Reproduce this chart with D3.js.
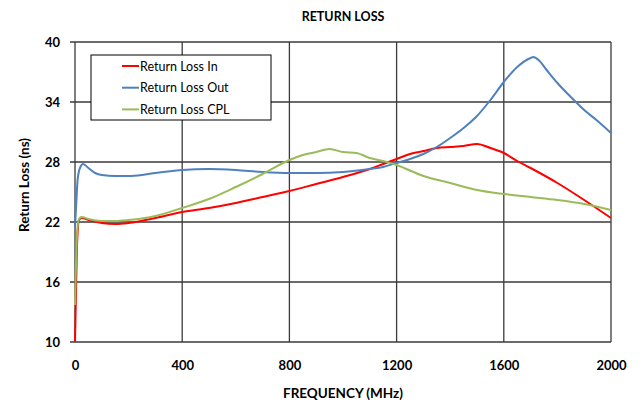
<!DOCTYPE html>
<html><head><meta charset="utf-8">
<script src="https://cdn.jsdelivr.net/npm/d3@7/dist/d3.min.js"></script>
<style>body{margin:0;background:#fff}svg{display:block}text{font-family:Lato,"Open Sans",sans-serif}</style>
</head><body><svg id="c" width="642" height="406"></svg>
<script>
const xTicks = [0, 400, 800, 1200, 1600, 2000];
const yTicks = [10, 16, 22, 28, 34, 40];
const seriesNames = ["Return Loss In", "Return Loss Out", "Return Loss CPL"];
const seriesColors = ["#FF0000", "#4F81BD", "#9BBB59"];

const freqIn = [0, 3, 8, 15, 25, 50, 100, 150, 200, 300, 400, 500, 600, 700, 800, 900, 1000, 1100, 1150, 1200, 1250, 1300, 1350, 1400, 1450, 1500, 1550, 1600, 1650, 1700, 1800, 1900, 2000];
const lossIn = [10, 14, 20, 22.2, 22.4, 22.2, 21.9, 21.8, 21.9, 22.4, 23.0, 23.4, 23.9, 24.5, 25.1, 25.8, 26.5, 27.3, 27.8, 28.3, 28.8, 29.1, 29.4, 29.5, 29.6, 29.8, 29.4, 28.9, 28.1, 27.4, 25.9, 24.2, 22.4];

const freqOut = [0, 5, 10, 20, 30, 50, 75, 100, 150, 200, 250, 300, 400, 500, 600, 700, 800, 900, 1000, 1100, 1150, 1200, 1250, 1300, 1350, 1400, 1450, 1500, 1550, 1600, 1650, 1700, 1710, 1730, 1760, 1800, 1850, 1900, 1950, 2000];
const lossOut = [21.5, 24, 26.3, 27.5, 27.8, 27.4, 26.9, 26.7, 26.6, 26.6, 26.7, 26.9, 27.2, 27.3, 27.2, 27.0, 26.9, 26.9, 27.0, 27.3, 27.5, 27.9, 28.3, 28.8, 29.5, 30.4, 31.4, 32.6, 34.2, 36.0, 37.5, 38.4, 38.5, 38.2, 37.2, 35.9, 34.5, 33.2, 32.1, 30.9];

const freqCpl = [0, 3, 8, 15, 25, 50, 100, 150, 200, 300, 400, 500, 600, 700, 800, 850, 900, 950, 1000, 1050, 1100, 1150, 1200, 1300, 1400, 1500, 1600, 1700, 1800, 1900, 2000];
const lossCpl = [13.7, 17, 21, 22.3, 22.5, 22.3, 22.1, 22.1, 22.2, 22.6, 23.4, 24.3, 25.5, 26.8, 28.2, 28.7, 29.0, 29.3, 29.0, 28.9, 28.4, 28.1, 27.7, 26.6, 25.9, 25.2, 24.8, 24.5, 24.2, 23.8, 23.2];

const series = [
  {name: seriesNames[0], color: seriesColors[0], f: freqIn, v: lossIn},
  {name: seriesNames[1], color: seriesColors[1], f: freqOut, v: lossOut},
  {name: seriesNames[2], color: seriesColors[2], f: freqCpl, v: lossCpl}
];

const svg = d3.select("#c");
const L = 75, R = 611, T = 42, B = 342;
const x = d3.scaleLinear().domain([0, 2000]).range([L, R]);
const y = d3.scaleLinear().domain([10, 40]).range([B, T]);

// grid
const g = svg.append("g");
g.selectAll(".vg").data(xTicks).enter().append("line")
  .attr("x1", d => x(d)).attr("x2", d => x(d)).attr("y1", T).attr("y2", B)
  .attr("stroke", "#3a3a3a").attr("stroke-width", 1.3);
g.selectAll(".hg").data(yTicks).enter().append("line")
  .attr("x1", L - 5).attr("x2", R).attr("y1", d => y(d)).attr("y2", d => y(d))
  .attr("stroke", "#3a3a3a").attr("stroke-width", 1.3);

// y axis labels
const yAxis = d3.axisLeft(y).tickValues(yTicks).tickSize(0).tickPadding(15);
const ya = svg.append("g").attr("transform", `translate(${L},0)`).call(yAxis);
ya.select(".domain").remove();
ya.selectAll("text").attr("font-size", 13).attr("font-weight", "bold").attr("fill", "#000")
  .attr("font-family", "Lato, sans-serif");

const xAxis = d3.axisBottom(x).tickValues(xTicks).tickSize(0).tickPadding(19).tickFormat(d3.format("d"));
const xa = svg.append("g").attr("transform", `translate(0,${B})`).call(xAxis);
xa.select(".domain").remove();
xa.selectAll("text").attr("font-size", 13).attr("font-weight", "bold").attr("fill", "#000")
  .attr("font-family", "Lato, sans-serif");

// lines
const line = d3.line().x(d => x(d[0])).y(d => y(d[1])).curve(d3.curveMonotoneX);
series.forEach(s => {
  const pts = s.f.map((f, i) => [f, s.v[i]]);
  svg.append("path").attr("d", line(pts)).attr("fill", "none")
    .attr("stroke", s.color).attr("stroke-width", 2);
});

// titles
svg.append("text").attr("x", 343).attr("y", 21).attr("text-anchor", "middle")
  .attr("font-size", 12.5).attr("font-weight", "bold").text("RETURN LOSS");
svg.append("text").attr("x", 343).attr("y", 398).attr("text-anchor", "middle")
  .attr("font-size", 13.5).attr("font-weight", "bold").text("FREQUENCY (MHz)");
svg.append("text").attr("transform", "translate(29,185) rotate(-90)").attr("text-anchor", "middle")
  .attr("font-size", 13.5).attr("font-weight", "bold").text("Return Loss (ns)");

// legend
const lg = svg.append("g");
lg.append("rect").attr("x", 91).attr("y", 55).attr("width", 180).attr("height", 65)
  .attr("fill", "#fff").attr("stroke", "#000").attr("stroke-width", 1);
series.forEach((s, i) => {
  const yy = 66 + i * 21.7;
  lg.append("line").attr("x1", 122).attr("x2", 139).attr("y1", yy).attr("y2", yy)
    .attr("stroke", s.color).attr("stroke-width", 2);
  lg.append("text").attr("x", 140).attr("y", yy + 4.5).attr("font-size", 12.5).attr("fill", "#000").text(s.name);
});
</script></body></html>
